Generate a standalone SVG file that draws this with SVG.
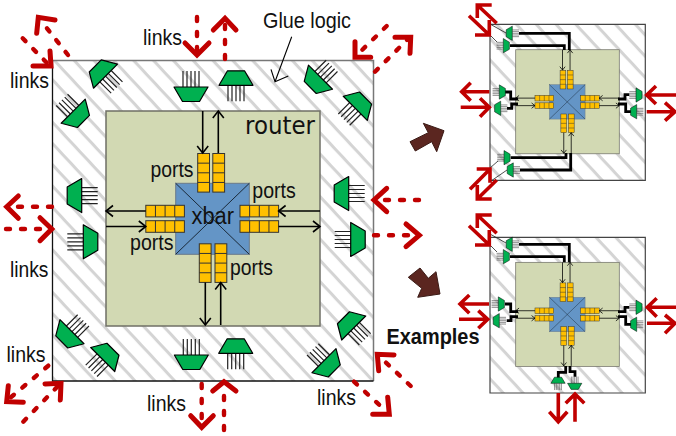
<svg xmlns="http://www.w3.org/2000/svg" width="676" height="436" viewBox="0 0 676 436">
<style>
text{font-family:"Liberation Sans",Arial,sans-serif;fill:#111}
.t{font-size:22px}
.box{fill:url(#hatch);stroke:none}
.bt{fill:none;stroke:#777;stroke-width:1.5}
.bb{fill:none;stroke:#111;stroke-width:1.3}
.rt{fill:#d2d9b3;stroke:#6f6f66;stroke-width:1.5}
.xb{fill:#6495c6;stroke:#6a7a8a;stroke-width:1}
.diag{stroke:#1a2a3a;stroke-width:1;fill:none}
.pt rect{fill:#ffc000;stroke:#333;stroke-width:1}
.pt path{fill:none;stroke:#333;stroke-width:1}
.ar{fill:none;stroke:#000;stroke-width:1.6}
.mg{fill:#00b050;stroke:#000;stroke-width:1.2;stroke-linejoin:round}
.ml{fill:none;stroke:#222;stroke-width:1.2}
.dash{fill:none;stroke:#c00000;stroke-width:4.4;stroke-dasharray:4 11;stroke-linecap:round}
.hd{fill:none;stroke:#c00000;stroke-width:5;stroke-linecap:round;stroke-linejoin:miter}
.sol{fill:none;stroke:#c00000;stroke-width:3.6;stroke-linecap:butt;stroke-linejoin:miter}
.thick{fill:none;stroke:#000;stroke-width:2.8;stroke-linejoin:miter}
.thin{fill:none;stroke:#222;stroke-width:.8}
.big{fill:#5b2620;stroke:#3a1a15;stroke-width:1;stroke-linejoin:miter}
.sm{stroke-width:2}
.sm .ar{stroke-width:2}
</style>
<defs>
<pattern id="hatch" width="14.5" height="14.5" patternUnits="userSpaceOnUse" patternTransform="rotate(47)">
<rect width="14.5" height="14.5" fill="#fff"/>
<rect y="0" width="14.5" height="3" fill="#d4d4d4"/>
</pattern>
<marker id="v" markerUnits="userSpaceOnUse" viewBox="-9 -7 10 14" markerWidth="10" markerHeight="14" refX="0" refY="0" orient="auto" overflow="visible">
<path d="M-7 -5.5L0 0L-7 5.5" fill="none" stroke="#000" stroke-width="1.6"/>
</marker>
<g id="mux">
<path class="ml" d="M-8 0V16M-4 0V16M0 0V16M4 0V16M8 0V16"/>
<path class="mg" d="M-17 0H17L8.5 -14.5H-8.5Z"/>
</g>
<g id="pv" class="pt"><rect width="11.8" height="38.6"/><path d="M0 9.65H11.8M0 19.3H11.8M0 28.95H11.8"/></g>
<g id="ph" class="pt"><rect width="38.6" height="11.6"/><path d="M9.65 0V11.6M19.3 0V11.6M28.95 0V11.6"/></g>
<g id="core">
<rect class="rt" x="106" y="111" width="214" height="215"/>
<rect class="xb" x="175.7" y="183.3" width="73.6" height="71"/>
<path class="diag" d="M175.7 183.3L249.3 254.3M249.3 183.3L175.7 254.3"/>
<use href="#pv" x="197.7" y="153.5"/><use href="#pv" x="212.8" y="153.5"/>
<use href="#pv" x="199.3" y="243.8"/><use href="#pv" x="215" y="243.8"/>
<use href="#ph" x="145.8" y="205.3"/><use href="#ph" x="145.8" y="220.7"/>
<use href="#ph" x="240" y="205.3"/><use href="#ph" x="240" y="220.7"/>
<path class="ar" d="M202.7 111V153" marker-end="url(#v)"/>
<path class="ar" d="M218.3 153V111" marker-end="url(#v)"/>
<path class="ar" d="M205.3 282.5V325" marker-end="url(#v)"/>
<path class="ar" d="M220.7 325V282.5" marker-end="url(#v)"/>
<path class="ar" d="M145.8 211H106" marker-end="url(#v)"/>
<path class="ar" d="M106 226.5H145.8" marker-end="url(#v)"/>
<path class="ar" d="M320 211H278.6" marker-end="url(#v)"/>
<path class="ar" d="M278.6 226.5H320" marker-end="url(#v)"/>
</g>
</defs>
<rect width="676" height="436" fill="#fff"/>

<g id="main-box"><rect class="box" x="52.5" y="60.5" width="321" height="320.5"/><path class="bt" d="M52.5 60.5H373.5V381"/><path class="bb" d="M52.5 60.5V381H373.5"/></g>
<g id="router"><use href="#core"/></g>

<g id="mux-top-1"><use href="#mux" transform="translate(191 87) rotate(180)"/></g>
<g id="mux-top-2"><use href="#mux" transform="translate(236 85.3)"/></g>
<g id="mux-bottom-1"><use href="#mux" transform="translate(191.3 355) rotate(180)"/></g>
<g id="mux-bottom-2"><use href="#mux" transform="translate(235.7 353.3)"/></g>
<g id="mux-left-1"><use href="#mux" transform="translate(81.7 195.6) rotate(-90)"/></g>
<g id="mux-left-2"><use href="#mux" transform="translate(83.3 241.8) rotate(90)"/></g>
<g id="mux-right-1"><use href="#mux" transform="translate(348.7 193.5) rotate(-90)"/></g>
<g id="mux-right-2"><use href="#mux" transform="translate(350.7 239.5) rotate(90)"/></g>
<g id="mux-tl-1"><use href="#mux" transform="translate(105.5 76.2) rotate(-45)"/></g>
<g id="mux-tl-2"><use href="#mux" transform="translate(73.2 111.2) rotate(135)"/></g>
<g id="mux-tr-1"><use href="#mux" transform="translate(320.5 77.2) rotate(-135)"/></g>
<g id="mux-tr-2"><use href="#mux" transform="translate(355.3 108.3) rotate(45)"/></g>
<g id="mux-bl-1"><use href="#mux" transform="translate(72 331.7) rotate(-135)"/></g>
<g id="mux-bl-2"><use href="#mux" transform="translate(102.7 359.5) rotate(45)"/></g>
<g id="mux-br-1"><use href="#mux" transform="translate(353.7 328) rotate(-45)"/></g>
<g id="mux-br-2"><use href="#mux" transform="translate(324 360.7) rotate(135)"/></g>

<g id="connectors">
<path class="dash" d="M68 55L42 22"/><path class="hd" d="M55 20L38.3 17.3L36.7 33.3"/>
<path class="dash" d="M22.7 38.3L47 63"/><path class="hd" d="M33 66H51L50 51"/>
<path class="dash" d="M197 17V50"/><path class="hd" d="M185 43L197 55L209 43"/>
<path class="dash" d="M225 59V22"/><path class="hd" d="M213.3 30L225 18.3L236 30"/>
<path class="dash" d="M386.7 26L358 54"/><path class="hd" d="M355 41.7V57.3H370.7"/>
<path class="dash" d="M375 71.7L407 40"/><path class="hd" d="M395 37.3H410.7L410 53.3"/>
<path class="dash" d="M52 206.7H10"/><path class="hd" d="M18.3 196L6.7 206.7L18.3 218.3"/>
<path class="dash" d="M6 229H48"/><path class="hd" d="M40 217.7L51.7 229L40 240.7"/>
<path class="dash" d="M419 200H378"/><path class="hd" d="M386.7 188.3L374 200L386.7 211.7"/>
<path class="dash" d="M374 235.3H416"/><path class="hd" d="M406 224L419.3 235.3L406 246.7"/>
<path class="dash" d="M48.3 365.7L10 398"/><path class="hd" d="M8.3 385.7L6.7 401.7L23.3 402.3"/>
<path class="dash" d="M23.3 421.7L58 386"/><path class="hd" d="M45 384L61 383.3L60.3 400"/>
<path class="dash" d="M201.7 384V424"/><path class="hd" d="M190.7 415.7L201.7 427.3L213.3 415.7"/>
<path class="dash" d="M224 430V385"/><path class="hd" d="M212.7 391L224 381.7L236 391"/>
<path class="dash" d="M354 381.7L386 411"/><path class="hd" d="M372.7 414.3H389.3L387.7 397.3"/>
<path class="dash" d="M410.7 386L380 357"/><path class="hd" d="M394 355L377.3 354.3L378.7 370.7"/>
<path class="thin" style="stroke:#000;stroke-width:1.1" d="M291.7 36.7L275 81.7M271 69.3L275 81.7L288.3 76"/>
<path class="big" d="M410 141.7L428.3 132.7L423.3 123.3L444 130.7L436.7 151.7L431.7 141.7L415.3 151Z"/>
<path class="big" d="M408.3 277.3L421.7 288.3L417.7 297.3L440 294L436 271.7L428.3 278.3L420 268Z"/>
</g>

<g id="labels">
<text class="t" x="143" y="45" textLength="39" lengthAdjust="spacingAndGlyphs">links</text>
<text class="t" x="10" y="88" textLength="39" lengthAdjust="spacingAndGlyphs">links</text>
<text class="t" x="10" y="277" textLength="38.5" lengthAdjust="spacingAndGlyphs">links</text>
<text class="t" x="6.5" y="362" textLength="39" lengthAdjust="spacingAndGlyphs">links</text>
<text class="t" x="147" y="410.5" textLength="39" lengthAdjust="spacingAndGlyphs">links</text>
<text class="t" x="317" y="405" textLength="39" lengthAdjust="spacingAndGlyphs">links</text>
<text class="t" x="263" y="28" textLength="88" lengthAdjust="spacingAndGlyphs">Glue logic</text>
<text x="245" y="133.5" textLength="70" lengthAdjust="spacingAndGlyphs" style="font-family:'DejaVu Sans',sans-serif;font-size:24px">router</text>
<text class="t" x="150.5" y="176.5" textLength="43" lengthAdjust="spacingAndGlyphs">ports</text>
<text class="t" x="252.3" y="198" textLength="43.5" lengthAdjust="spacingAndGlyphs">ports</text>
<text class="t" x="130" y="250" textLength="43.5" lengthAdjust="spacingAndGlyphs">ports</text>
<text class="t" x="230" y="275" textLength="43" lengthAdjust="spacingAndGlyphs">ports</text>
<text x="191.5" y="224" textLength="42.5" lengthAdjust="spacingAndGlyphs" style="font-size:23px">xbar</text>
<text x="386.5" y="343.5" textLength="93" lengthAdjust="spacingAndGlyphs" style="font-size:22px;font-weight:bold">Examples</text>
</g>

<g id="example-1">
<rect class="box" x="490" y="24.3" width="155.3" height="156"/><path class="bt" style="stroke-width:1.2;stroke:#444" d="M490 24.3H645.3V180.3H490Z"/>
<g class="sm" transform="translate(464.4 -4) scale(.484)"><use href="#core"/></g>
<g id="e1-connectors">
<path class="thick" d="M519 33.3H569.3V50M510 45.7H564.3V50M505 92H510.7V99H518M507 108.3H511.7V104H518M629.3 94.7H625V99H618M631 111.7H625.7V104H618M510.7 157.7H566V153M520 170H570.7V153"/>
<path class="thin" d="M490 24L506 33M490 35L497 42M490 168L498 161M491 181L507 170"/>
<path class="sol" d="M496.7 23.3L477.3 5M491.7 5H477.3V18M469 15.7L489.3 35M475 35H489.3V20"/>
<path class="sol" d="M489.3 91.7H461.7M470.7 82.7L461.7 91.7L470.7 100.7M460.7 107.3H489.3M480 98.3L489.3 107.3L480 116.7"/>
<path class="sol" d="M676 95H646.7M656 86L646.7 95L656 104M646.7 111.7H675M665 102.7L675 111.7L665 120.7"/>
<path class="sol" d="M470 189.3L490 169M476.7 169H490V182.7M496.7 180L477.3 199M477.3 185V199H491.7"/>
</g>
<g id="e1-m1"><use href="#mux" transform="translate(512.3 33.3) rotate(-90) scale(.42)"/></g>
<g id="e1-m2"><use href="#mux" transform="translate(503.3 45.7) rotate(90) scale(.42)"/></g>
<g id="e1-m3"><use href="#mux" transform="translate(499.3 92) rotate(90) scale(.42)"/></g>
<g id="e1-m4"><use href="#mux" transform="translate(500.7 108.3) rotate(-90) scale(.42)"/></g>
<g id="e1-m5"><use href="#mux" transform="translate(636 95) rotate(90) scale(.42)"/></g>
<g id="e1-m6"><use href="#mux" transform="translate(636.7 111.7) rotate(-90) scale(.42)"/></g>
<g id="e1-m7"><use href="#mux" transform="translate(504 157.7) rotate(90) scale(.42)"/></g>
<g id="e1-m8"><use href="#mux" transform="translate(513.3 170) rotate(-90) scale(.42)"/></g>
</g>

<g id="example-2">
<rect class="box" x="490" y="237.3" width="155.3" height="155.7"/><path class="bt" style="stroke-width:1.2;stroke:#444" d="M490 237.3H645.3V393H490Z"/>
<g class="sm" transform="translate(464.4 208.6) scale(.484)"><use href="#core"/></g>
<g id="e2-connectors">
<path class="thick" d="M519 244.3H569.3V262.3M510 256.7H564.3V262.3M505 304H510.7V311.7H518M506.7 320.7H511V316.7H518M629.3 307.3H625V311.7H618M631 324.3H625.7V316.7H618M558.3 378V372.3H565.7V366M575 376.7V371.7H570V366"/>
<path class="thin" d="M490 234L506 243M490 245L497 252"/>
<path class="sol" d="M496.7 233.3L477.3 215M491.7 215H477.3V228M469 225.7L489.3 245M475 245H489.3V230"/>
<path class="sol" d="M489 304H460M469.3 295L460 304L469.3 313.3M459 319.3H487.7M478.3 310.7L487.7 319.3L478.3 328.3"/>
<path class="sol" d="M676 307.3H647.3M656.7 298.3L647.3 307.3L656.7 316.7M647 323.3H675M665 315L675 323.3L665 333.3"/>
<path class="sol" d="M558.3 393V421.7M549.3 411.7L558.3 421.7L567.3 411.7M575 421.7V394M565.7 403.3L575 394L584.3 403.3"/>
</g>
<g id="e2-m1"><use href="#mux" transform="translate(512.3 244.3) rotate(-90) scale(.42)"/></g>
<g id="e2-m2"><use href="#mux" transform="translate(503.3 256.7) rotate(90) scale(.42)"/></g>
<g id="e2-m3"><use href="#mux" transform="translate(498.3 304) rotate(90) scale(.42)"/></g>
<g id="e2-m4"><use href="#mux" transform="translate(499.3 320.7) rotate(-90) scale(.42)"/></g>
<g id="e2-m5"><use href="#mux" transform="translate(636 307.3) rotate(90) scale(.42)"/></g>
<g id="e2-m6"><use href="#mux" transform="translate(636.7 324.3) rotate(-90) scale(.42)"/></g>
<g id="e2-m7"><use href="#mux" transform="translate(558 383.3) scale(.42)"/></g>
<g id="e2-m8"><use href="#mux" transform="translate(574.7 383.3) rotate(180) scale(.42)"/></g>
</g>
</svg>
